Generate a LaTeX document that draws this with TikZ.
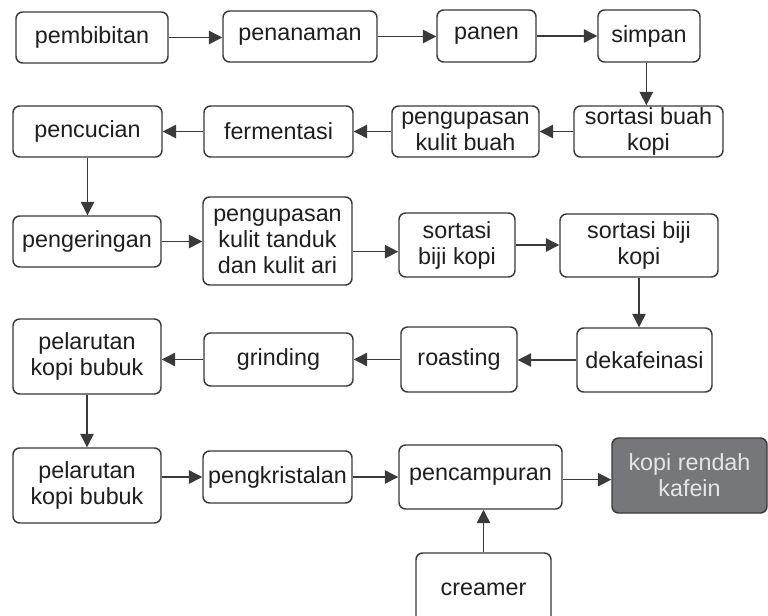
\documentclass[tikz,border=0pt]{standalone}
\usepackage{fontspec}
\setmainfont{Liberation Sans}
\usetikzlibrary{arrows.meta,calc}
\definecolor{ln}{HTML}{3A3A3A}
\definecolor{tx}{HTML}{1E1E1E}
\definecolor{dk}{HTML}{76777A}
\definecolor{lt}{HTML}{E6E6E6}
\tikzset{
  bx/.style 2 args={draw=ln, line width=1.1pt, rounded corners=5pt, fill=white,
    align=center, inner sep=1pt, text=tx,
    font=\fontsize{17.5}{19.5}\selectfont,
    minimum width=#1*0.75pt, minimum height=#2*0.75pt},
  arr/.style={draw=ln, line width=1pt, -{Triangle[length=10pt,width=10pt]}}
}
\begin{document}
\begin{tikzpicture}[x=0.75pt,y=-0.75pt]
\clip (0,0) rectangle (768,615);
\fill[white] (0,0) rectangle (768,615);
% row 1
\node[bx={152}{51}] (a) at (92,37.5) {pembibitan};
\node[bx={154}{51}] (b) at (300,36.5) {penanaman};
\node[bx={99}{52}] (c) at (486.5,36) {panen};
\node[bx={102}{52}] (d) at (649,36) {simpan};
% row 2
\node[bx={149}{51}] (e) at (648.5,131.5) {sortasi buah\\kopi};
\node[bx={147}{51}] (f) at (465.5,131.5) {pengupasan\\kulit buah};
\node[bx={149}{51}] (g) at (278.5,131.5) {fermentasi};
\node[bx={149}{51}] (h) at (87.5,131.5) {pencucian};
% row 3
\node[bx={148}{51}] (i) at (87,241.5) {pengeringan};
\node[bx={149}{88}] (j) at (277.5,241) {pengupasan\\kulit tanduk\\dan kulit ari};
\node[bx={116}{64}] (k) at (457,245) {sortasi\\biji kopi};
\node[bx={158}{63}] (l) at (639,245.5) {sortasi biji\\kopi};
% row 4
\node[bx={135}{64}] (m) at (644.5,360) {dekafeinasi};
\node[bx={116}{65}] (n) at (459,359.5) {roasting};
\node[bx={149}{53}] (o) at (278.5,359.5) {grinding};
\node[bx={148}{75}] (p) at (87,356.5) {pelarutan\\kopi bubuk};
% row 5
\node[bx={148}{75}] (q) at (87,485.5) {pelarutan\\kopi bubuk};
\node[bx={149}{52}] (r) at (277.5,477) {pengkristalan};
\node[bx={163}{64}] (s) at (480.5,477) {pencampuran};
\node[bx={155}{75}, fill=dk, text=lt] (t) at (689.5,475.5) {kopi rendah\\kafein};
\node[bx={135}{72}] (u) at (483.5,589) {creamer};
% connectors
\draw[arr] (a.east) -- (a.east -| b.west);
\draw[arr] (b.east) -- (b.east -| c.west);
\draw[arr] (c.east) -- (c.east -| d.west);
\draw[arr] ([xshift=-2pt]d.south) -- ([xshift=-2pt]d.south |- e.north);
\draw[arr] (e.west) -- (e.west -| f.east);
\draw[arr] (f.west) -- (f.west -| g.east);
\draw[arr] (g.west) -- (g.west -| h.east);
\draw[arr] (h.south) -- (h.south |- i.north);
\draw[arr] (i.east) -- (i.east -| j.west);
\draw[arr] ([yshift=-5pt]k.west -| j.east) -- ([yshift=-5pt]k.west);
\draw[arr] (k.east) -- (k.east -| l.west);
\draw[arr] (l.south) -- (l.south |- m.north);
\draw[arr] (m.west) -- (m.west -| n.east);
\draw[arr] (n.west) -- (n.west -| o.east);
\draw[arr] (o.west) -- (o.west -| p.east);
\draw[arr] (p.south) -- (p.south |- q.north);
\draw[arr] (q.east |- r.west) -- (r.west);
\draw[arr] (r.east) -- (r.east -| s.west);
\draw[arr] ([yshift=-2pt]s.east) -- ([yshift=-2pt]s.east -| t.west);
\draw[arr] (u.north) -- (u.north |- s.south);
\end{tikzpicture}
\end{document}
